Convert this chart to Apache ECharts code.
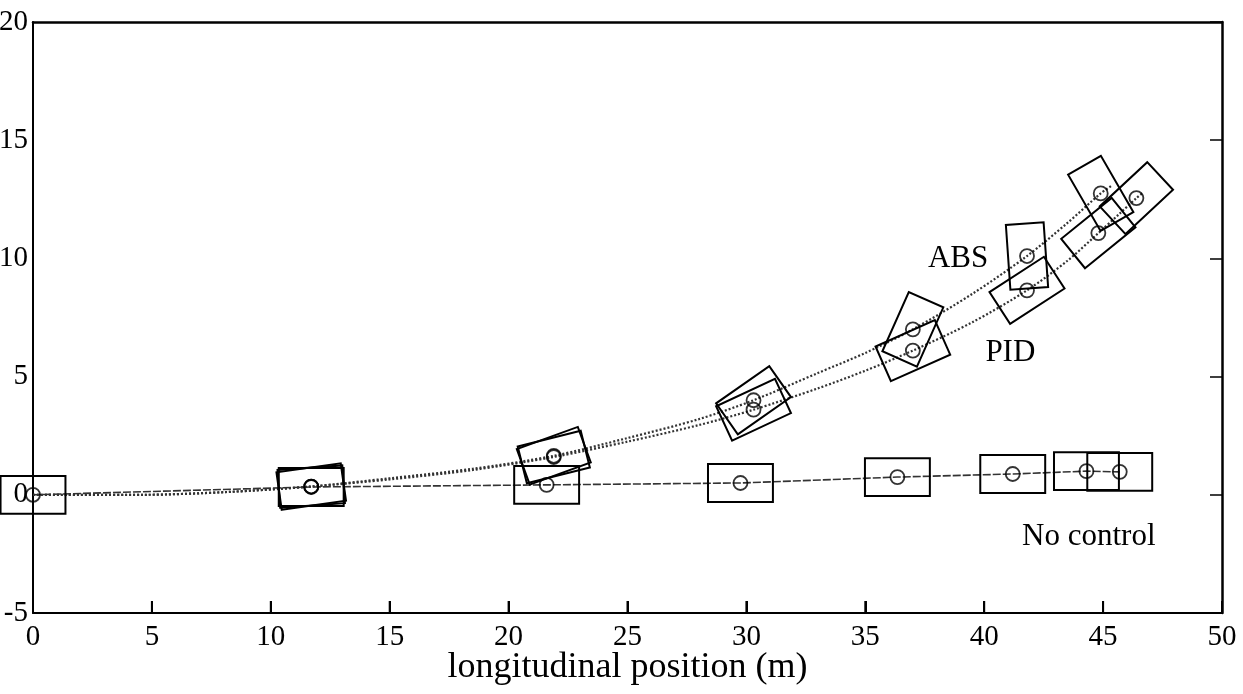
<!DOCTYPE html>
<html>
<head>
<meta charset="utf-8">
<script src="https://cdn.jsdelivr.net/npm/echarts@6/dist/echarts.min.js"></script>
<style>html,body{margin:0;padding:0;background:#fff;}#c{width:1243px;height:694px;}</style>
</head>
<body>
<div id="c"></div>
<script>
// ---- data ----
var xTicks = [0, 5, 10, 15, 20, 25, 30, 35, 40, 45, 50];
var yTicks = [-5, 0, 5, 10, 15, 20];

// trajectories (x, y in m)
var noCtrlX = [0, 11.7, 21.6, 29.75, 36.35, 41.2, 44.3, 45.7];
var noCtrlY = [0, 0.33, 0.42, 0.5, 0.75, 0.88, 1.0, 0.97];

var absX = [0, 4.6, 8.2, 11.7, 15, 18.5, 21.9, 25, 28, 30.3, 33, 35, 37, 39.5, 41.8, 43.5, 44.9, 45.4];
var absY = [0, 0.0, 0.12, 0.35, 0.7, 1.1, 1.65, 2.4, 3.2, 4.0, 5.15, 6.0, 7.0, 8.5, 10.1, 11.5, 12.75, 13.1];

var pidX = [0, 4.6, 8.2, 11.7, 15, 18.5, 21.9, 25, 28, 30.3, 33, 35, 37, 39.5, 41.8, 43.5, 44.8, 45.7, 46.4, 46.7];
var pidY = [0, 0.0, 0.12, 0.35, 0.65, 1.05, 1.6, 2.25, 2.95, 3.6, 4.5, 5.25, 6.1, 7.3, 8.65, 9.9, 11.07, 11.9, 12.55, 12.8];

// vehicle snapshots (center x, center y, heading in degrees)
var noCtrlSnapX = [0, 11.7, 21.6, 29.75, 36.35, 41.2, 44.3, 45.7];
var noCtrlSnapY = [0, 0.33, 0.42, 0.5, 0.75, 0.88, 1.0, 0.97];
var noCtrlSnapA = [0, 0, 0, 0, 0, 0, 0, 0];

var absSnapX = [11.7, 21.9, 30.3, 37.0, 41.8, 44.9];
var absSnapY = [0.35, 1.65, 4.0, 7.0, 10.1, 12.75];
var absSnapA = [8, 20, 35, 66, 94, 120];

var pidSnapX = [11.7, 21.9, 30.3, 37.0, 41.8, 44.8, 46.4];
var pidSnapY = [0.35, 1.6, 3.6, 6.1, 8.65, 11.07, 12.55];
var pidSnapA = [4, 14, 25, 24, 33, 39, 43];

var vehicleLength = 2.73;
var vehicleWidth = 1.6;

var labelText = ['ABS', 'PID', 'No control'];
var labelX = [38.9, 41.1, 44.4];
var labelY = [10.0, 6.0, -1.8];

// ---- build ----
function zip(xs, ys) { return xs.map(function (x, i) { return [x, ys[i]]; }); }
function zip3(xs, ys, as) { return xs.map(function (x, i) { return [x, ys[i], as[i]]; }); }

var boxes = [].concat(zip3(noCtrlSnapX, noCtrlSnapY, noCtrlSnapA),
                      zip3(pidSnapX, pidSnapY, pidSnapA),
                      zip3(absSnapX, absSnapY, absSnapA));
var circles = [].concat(zip(noCtrlSnapX, noCtrlSnapY), zip(pidSnapX, pidSnapY), zip(absSnapX, absSnapY));
var bottomTicks = xTicks.slice(1, -1).map(function (v) { return [v, yTicks[0]]; });

var FONT = '"Liberation Serif", "DejaVu Serif", serif';

var chart = echarts.init(document.getElementById('c'), null, {renderer: 'canvas'});
chart.setOption({
  animation: false,
  backgroundColor: '#fff',
  grid: {left: 33, right: 21, top: 22, bottom: 81, containLabel: false, outerBoundsMode: 'none'},
  xAxis: [{
    type: 'value', min: xTicks[0], max: xTicks[xTicks.length - 1], interval: 5,
    position: 'bottom',
    name: 'longitudinal position (m)', nameLocation: 'middle', nameGap: 37, nameMoveOverlap: false,
    nameTextStyle: {fontFamily: FONT, fontSize: 36, color: '#000'},
    axisLine: {show: true, onZero: false, lineStyle: {color: '#000', width: 2}},
    axisTick: {show: true, inside: true, length: 12, lineStyle: {color: '#000', width: 2}},
    axisLabel: {fontFamily: FONT, fontSize: 29, color: '#000', margin: 10},
    splitLine: {show: false}
  }, {
    type: 'value', min: xTicks[0], max: xTicks[xTicks.length - 1], interval: 5,
    position: 'top',
    axisLine: {show: true, onZero: false, lineStyle: {color: '#000', width: 2.5}},
    axisTick: {show: false}, axisLabel: {show: false}, splitLine: {show: false}
  }],
  yAxis: [{
    type: 'value', min: yTicks[0], max: yTicks[yTicks.length - 1], interval: 5,
    position: 'left',
    axisLine: {show: true, onZero: false, lineStyle: {color: '#000', width: 2}},
    axisTick: {show: false},
    axisLabel: {fontFamily: FONT, fontSize: 29, color: '#000', margin: 5},
    splitLine: {show: false}
  }, {
    type: 'value', min: yTicks[0], max: yTicks[yTicks.length - 1], interval: 5,
    position: 'right',
    axisLine: {show: true, onZero: false, lineStyle: {color: '#000', width: 2.5}},
    axisTick: {show: true, inside: true, length: 12, lineStyle: {color: '#000', width: 1.5}},
    axisLabel: {show: false}, splitLine: {show: false}
  }],
  series: [
    {type: 'line', data: zip(noCtrlX, noCtrlY), symbol: 'none', z: 2,
     lineStyle: {color: '#333', width: 1.6, type: [8, 2]}},
    {type: 'line', data: zip(absX, absY), symbol: 'none', smooth: 0.3, z: 2,
     lineStyle: {color: '#333', width: 2.2, type: [2, 2]}},
    {type: 'line', data: zip(pidX, pidY), symbol: 'none', smooth: 0.3, z: 2,
     lineStyle: {color: '#333', width: 2.2, type: [2, 2]}},
    {type: 'custom', data: bottomTicks, z: 6, clip: false,
     renderItem: function (params, api) {
       var p = api.coord([api.value(0), api.value(1)]);
       return {type: 'rect', shape: {x: p[0] - 1, y: p[1] - 12, width: 2, height: 12},
               style: {fill: '#000'}};
     }},
    {type: 'custom', data: boxes, z: 3,
     renderItem: function (params, api) {
       var c = api.coord([api.value(0), api.value(1)]);
       var s = api.size([vehicleLength, vehicleWidth]);
       var a = api.value(2) * Math.PI / 180;
       var hl = s[0] / 2, hw = s[1] / 2;
       var ca = Math.cos(a), sa = Math.sin(a);
       var corners = [[-hl, -hw], [hl, -hw], [hl, hw], [-hl, hw]].map(function (p) {
         return [c[0] + p[0] * ca - p[1] * sa, c[1] - (p[0] * sa + p[1] * ca)];
       });
       return {type: 'polygon', shape: {points: corners},
               style: {fill: 'none', stroke: '#000', lineWidth: 2}};
     }},
    {type: 'scatter', data: circles, symbol: 'circle', symbolSize: 14, z: 4,
     itemStyle: {color: 'rgba(0,0,0,0)', borderColor: '#000', borderWidth: 1.8}},
    {type: 'scatter', data: labelX.map(function (x, i) { return [x, labelY[i], labelText[i]]; }),
     symbolSize: 0, z: 5,
     label: {show: true, position: 'inside', formatter: function (p) { return p.value[2]; },
             fontFamily: FONT, fontSize: 31, color: '#000000', textBorderWidth: 0, opacity: 1}}
  ]
});
</script>
</body>
</html>
